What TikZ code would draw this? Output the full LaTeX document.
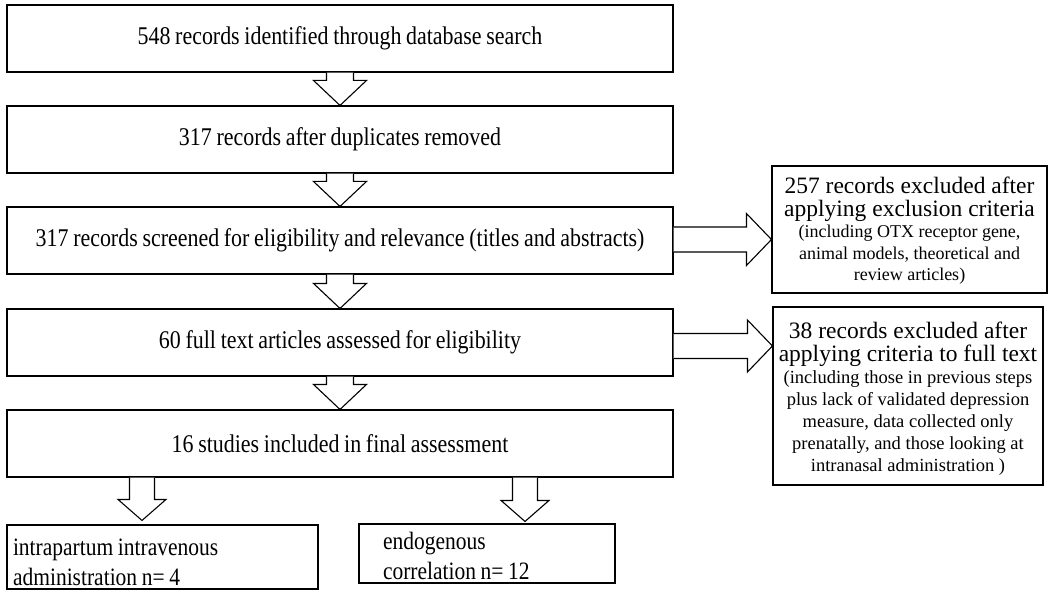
\documentclass[tikz,border=0pt]{standalone}
\usepackage{fontspec}
\setmainfont{Liberation Serif}
\newfontfamily\condfont[FakeStretch=0.86, WordSpace=0.86]{Liberation Serif}
\usetikzlibrary{calc}
\newcommand{\natspace}{\spaceskip=\fontdimen2\font\relax\xspaceskip=\fontdimen2\font\relax}
\tikzset{
  mainbox/.style={draw, line width=1.1pt, inner sep=0pt, minimum width=666pt, minimum height=67pt,
    font=\condfont\fontsize{25.5}{28}\selectfont},
  exbox/.style={draw, line width=1.1pt, inner sep=0pt, align=center},
  outbox/.style={draw, line width=1.1pt, inner ysep=0pt, align=left, font=\condfont\fontsize{25}{30}\selectfont},
  blockarr/.style={draw, fill=white, line width=1.1pt, line join=miter},
}
% vertical block arrow: start, tip, shaft half width, head half width, head length
\newcommand{\vblock}[5]{%
  \draw[blockarr] let \p1=(#1), \p2=(#2) in
    (\x1-#3,\y1) -- (\x1-#3,\y2+#5) -- (\x1-#4,\y2+#5) -- (\x1,\y2)
    -- (\x1+#4,\y2+#5) -- (\x1+#3,\y2+#5) -- (\x1+#3,\y1);}
% horizontal block arrow: start, tip, shaft half width, head half width, head length
\newcommand{\hblock}[5]{%
  \draw[blockarr] let \p1=(#1), \p2=(#2) in
    (\x1,\y1+#3) -- (\x2-#5,\y1+#3) -- (\x2-#5,\y1+#4) -- (\x2,\y1)
    -- (\x2-#5,\y1-#4) -- (\x2-#5,\y1-#3) -- (\x1,\y1-#3);}
\begin{document}
\begin{tikzpicture}[x=1pt, y=-1pt]
\useasboundingbox[fill=white] (0,0) rectangle (1050,591);

\node[mainbox] (b1) at (340,38.5) {548 records identified through database search};
\node[mainbox] (b2) at (340,139.5) {317 records after duplicates removed};
\node[mainbox] (b3) at (340,240.5) {317 records screened for eligibility and relevance (titles and abstracts)};
\node[mainbox] (b4) at (340,342.5) {60 full text articles assessed for eligibility};
\node[mainbox] (b5) at (340,443.5) {16 studies included in final assessment};

\node[exbox, minimum width=275pt, minimum height=127pt, text width=275pt] (exA) at (909.5,229.5)
  {\fontsize{23.5}{23}\selectfont\natspace \rule{0pt}{19pt}257 records excluded after\\ applying exclusion criteria\par
   \fontsize{18}{21.5}\selectfont\natspace (including OTX receptor gene,\\ animal models, theoretical and\\ review articles)\par};

\node[exbox, minimum width=270pt, minimum height=178pt, text width=270pt] (exB) at (908,396)
  {\fontsize{23.5}{23}\selectfont\natspace \rule{0pt}{21pt}38 records excluded after\\ applying criteria to full text\par
   \fontsize{18.5}{22}\selectfont\natspace (including those in previous steps\\ plus lack of validated depression\\
   measure, data collected only\\ prenatally, and those looking at\\ intranasal administration )\par};

\node[outbox, minimum width=311pt, minimum height=64pt, text width=299pt, inner xsep=6pt] (left) at (162.5,557)
  {\natspace\rule{0pt}{27pt}intrapartum intravenous\\ administration n= 4};
\node[outbox, minimum width=256pt, minimum height=59pt, text width=232pt, inner xsep=12pt] (right) at (487,553.5)
  {\natspace\rule{0pt}{23pt}\hspace*{12pt}endogenous\\ \hspace*{12pt}correlation n= 12};

\vblock{b1.south}{b2.north}{13.5pt}{26.5pt}{25pt}
\vblock{b2.south}{b3.north}{13.5pt}{26.5pt}{25pt}
\vblock{b3.south}{b4.north}{13.5pt}{26.5pt}{25pt}
\vblock{b4.south}{b5.north}{13.5pt}{26.5pt}{25pt}

\coordinate (sL) at ($(b5.south)+(-198,0)$);
\coordinate (tL) at ($(left.north)+(-20.5,-4)$);
\coordinate (sR) at ($(b5.south)+(185,0)$);
\coordinate (tR) at ($(right.north)+(38,-2)$);
\vblock{sL}{tL}{12.5pt}{24pt}{21pt}
\vblock{sR}{tR}{12.5pt}{24pt}{21pt}

\coordinate (sA) at ($(b3.east)+(0,-1)$);
\coordinate (sB) at ($(b4.east)+(0,3.5)$);
\hblock{sA}{exA.west}{12.5pt}{26pt}{25pt}
\hblock{sB}{exB.west}{12.5pt}{26pt}{25pt}
\end{tikzpicture}
\end{document}
